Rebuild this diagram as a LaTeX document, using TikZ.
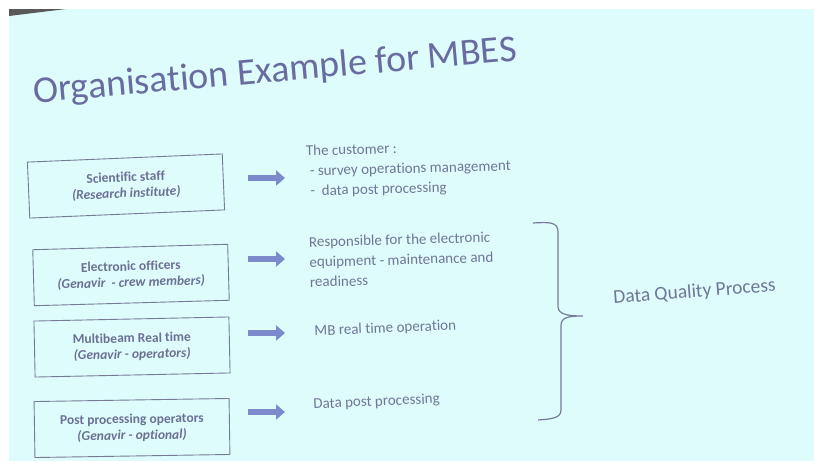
\documentclass[tikz,border=0pt]{standalone}
\usepackage{fontspec}
\setmainfont{Carlito}[Ligatures=NoCommon]
\usetikzlibrary{positioning,arrows.meta}

\definecolor{slidebg}{RGB}{222,252,252}
\definecolor{titleblue}{RGB}{104,108,160}
\definecolor{boxtext}{RGB}{108,112,148}
\definecolor{boxline}{RGB}{118,122,150}
\definecolor{desctext}{RGB}{112,118,150}
\definecolor{arrowblue}{RGB}{124,138,204}

\tikzset{
  rolebox/.style={draw=boxline, line width=0.9pt, minimum width=195, minimum height=56,
    align=center, text=boxtext, font=\fontsize{13.5}{16}\selectfont\bfseries},
  duty/.style={anchor=west, align=left, text=desctext, font=\fontsize{15}{20}\selectfont},
  fatarrow/.style={draw=arrowblue, line width=6pt,
    -{Triangle[length=9pt,width=15pt]}},
}

\begin{document}
\begin{tikzpicture}[x=1pt,y=-1pt]
    % Slide
    \useasboundingbox (0,0) rectangle (814,461);
    \fill[white] (0,0) rectangle (814,461);
    \fill[slidebg] (9,9) rectangle (814,461);
    \fill[gray!70!black] (9,9) -- (66,9) -- (9,16) -- cycle;

    % Title
    \node[text=titleblue, font=\fontsize{38}{44}\selectfont, rotate=5] (title) at (275,72)
        {Organisation Example for MBES};

    % Roles
    \node[rolebox, rotate=2.4] (sci) at (126,186)
        {Scientific staff\\ \textit{(Research institute)}};
    \node[rolebox, rotate=1.6] (elec) at (131,275)
        {Electronic officers\\ \textit{(Genavir \ - crew members)}};
    \node[rolebox, rotate=1.2] (mbrt) at (132,347)
        {Multibeam Real time\\ \textit{(Genavir - operators)}};
    \node[rolebox, rotate=0.9] (post) at (132,428)
        {Post processing operators\\ \textit{(Genavir - optional)}};

    % Duties
    \node[duty, rotate=1.5] (cust) at (303,172)
        {The customer :\\ \ - survey operations management\\ \ - \ data post processing};
    \node[duty, rotate=1.5] (resp) at (306,262)
        {Responsible for the electronic\\ equipment - maintenance and\\ readiness};
    \node[duty, rotate=2.5] (mbop) at (311,332) {MB real time operation};
    \node[duty, rotate=2.5] (dpp) at (310,405) {Data post processing};

    % Arrows
    \foreach \who/\ay in {sci/178, elec/259, mbrt/333, post/412}
        \draw[fatarrow] (248,\ay) -- (285,\ay);

    % Brace
    \coordinate (tip) at (583,316);
    \draw[boxline, line width=1.2pt] (533,223) .. controls (550,222) and (558,222) .. (558,232)
        -- (558,306) .. controls (558,314) and (566,316) .. (tip)
        .. controls (566,316) and (561,318) .. (561,326)
        -- (561,410) .. controls (561,418) and (552,419) .. (538,420);
    \node[text=desctext, font=\fontsize{19.5}{23}\selectfont, rotate=4.5, anchor=west] (dqp)
        at (610,299) {Data Quality Process};
\end{tikzpicture}
\end{document}
